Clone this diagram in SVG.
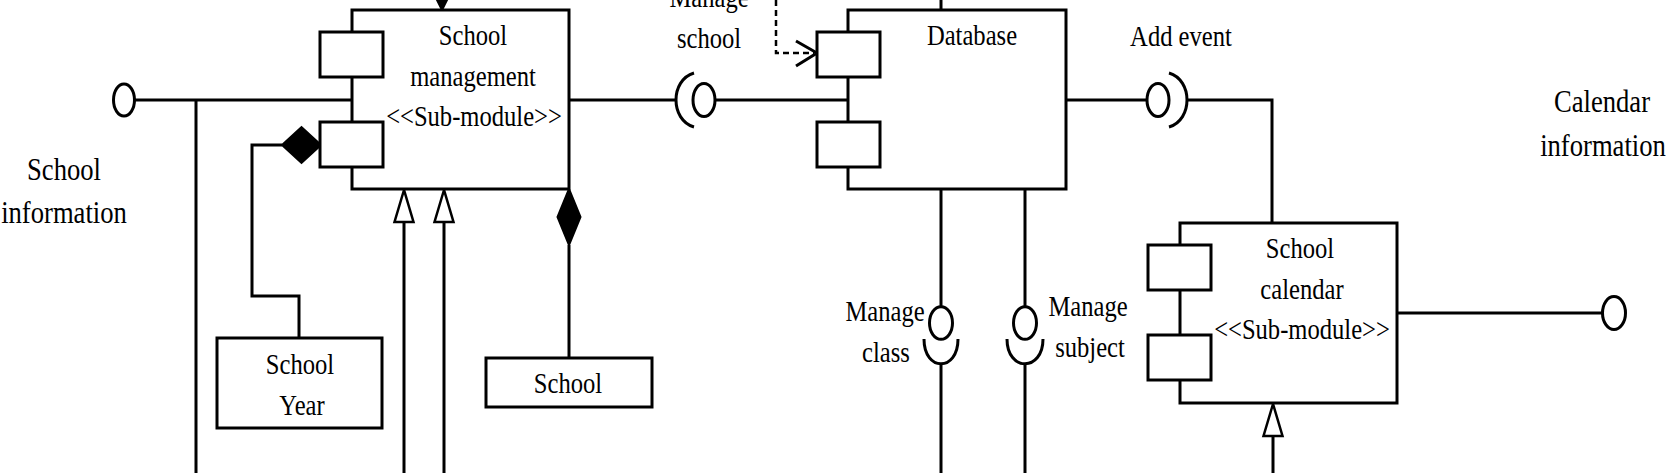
<svg xmlns="http://www.w3.org/2000/svg" width="1671" height="473" viewBox="0 0 1671 473">
<style>
.ln{fill:none;stroke:#000;stroke-width:3}
.dash{fill:none;stroke:#000;stroke-width:2.5;stroke-dasharray:6 4}
.ball{fill:#fff;stroke:#000;stroke-width:3}
.fd{fill:#000;stroke:#000;stroke-width:2}
.gen{fill:#fff;stroke:#000;stroke-width:2.5}
.box{fill:#fff;stroke:#000;stroke-width:3}
text{font-family:'Liberation Serif',serif;fill:#000;text-anchor:middle}
.t{font-size:30px}
.tb{font-size:32.5px}
</style>
<rect x="0" y="0" width="1671" height="473" fill="#fff"/>
<g id="connectors">
  <line class="ln" x1="135" y1="100" x2="352" y2="100"/>
  <ellipse class="ball" cx="124" cy="100" rx="10.5" ry="16"/>
  <line class="ln" x1="196" y1="100" x2="196" y2="473"/>
  <line class="ln" x1="442" y1="-40" x2="442" y2="-10"/>
  <polygon class="fd" points="442,10 454,-14 442,-38 430,-14"/>
  <polyline class="ln" points="282,145 252,145 252,296 299,296 299,338"/>
  <polygon class="fd" points="321,145 301.5,127 282,145 301.5,163"/>
  <line class="ln" x1="569" y1="245" x2="569" y2="358"/>
  <polygon class="fd" points="569,189 580.5,217 569,245 557.5,217"/>
  <line class="ln" x1="404" y1="222" x2="404" y2="473"/>
  <line class="ln" x1="444" y1="222" x2="444" y2="473"/>
  <polygon class="gen" points="404,190 394.5,222 413.5,222"/>
  <polygon class="gen" points="444,190 434.5,222 453.5,222"/>
  <line class="ln" x1="569" y1="100" x2="676" y2="100"/>
  <path class="ln" d="M694,73 C670,80 670,120 694,127"/>
  <line class="ln" x1="715" y1="100" x2="848" y2="100"/>
  <ellipse class="ball" cx="704" cy="100" rx="11" ry="16.5"/>
  <path class="dash" d="M776,0 V53 H814"/>
  <path class="ln" d="M796,41 L817,53 L796,66" stroke-width="2.5"/>
  <line class="ln" x1="941" y1="0" x2="941" y2="10"/>
  <line class="ln" x1="1066" y1="100" x2="1147" y2="100"/>
  <ellipse class="ball" cx="1158" cy="100" rx="11" ry="16.5"/>
  <path class="ln" d="M1169,73 C1193,80 1193,120 1169,127"/>
  <polyline class="ln" points="1187,100 1272,100 1272,223"/>
  <line class="ln" x1="941" y1="189" x2="941" y2="307"/>
  <ellipse class="ball" cx="941" cy="323" rx="11.5" ry="16.3"/>
  <path class="ln" d="M924,339 C924,372 958,372 958,339"/>
  <line class="ln" x1="941" y1="364" x2="941" y2="473"/>
  <line class="ln" x1="1025" y1="189" x2="1025" y2="307"/>
  <ellipse class="ball" cx="1025" cy="323" rx="11.5" ry="16.3"/>
  <path class="ln" d="M1007,339 C1007,372 1043,372 1043,339"/>
  <line class="ln" x1="1025" y1="364" x2="1025" y2="473"/>
  <line class="ln" x1="1397" y1="313" x2="1602" y2="313"/>
  <ellipse class="ball" cx="1614" cy="313" rx="11.5" ry="16.5"/>
  <line class="ln" x1="1273" y1="436" x2="1273" y2="473"/>
  <polygon class="gen" points="1273,404 1263.5,436 1282.5,436"/>
</g>
<g id="school-management">
  <rect class="box" x="352" y="10" width="217" height="179"/>
  <rect class="box" x="320" y="32" width="63" height="45"/>
  <rect class="box" x="320" y="122" width="63" height="45"/>
  <text class="t" font-family="Liberation Serif, serif" transform="translate(473,45) scale(0.82,1)">School</text>
  <text class="t" font-family="Liberation Serif, serif" transform="translate(473,86) scale(0.82,1)">management</text>
  <text class="t" font-family="Liberation Serif, serif" transform="translate(474,126) scale(0.82,1)">&lt;&lt;Sub-module&gt;&gt;</text>
</g>
<g id="database">
  <rect class="box" x="848" y="10" width="218" height="179"/>
  <rect class="box" x="817" y="32" width="63" height="45"/>
  <rect class="box" x="817" y="122" width="63" height="45"/>
  <text class="t" font-family="Liberation Serif, serif" transform="translate(972,45) scale(0.82,1)">Database</text>
</g>
<g id="school-calendar">
  <rect class="box" x="1180" y="223" width="217" height="180"/>
  <rect class="box" x="1148" y="245" width="63" height="45"/>
  <rect class="box" x="1148" y="335" width="63" height="45"/>
  <text class="t" font-family="Liberation Serif, serif" transform="translate(1300,258) scale(0.82,1)">School</text>
  <text class="t" font-family="Liberation Serif, serif" transform="translate(1302,299) scale(0.82,1)">calendar</text>
  <text class="t" font-family="Liberation Serif, serif" transform="translate(1302,339) scale(0.82,1)">&lt;&lt;Sub-module&gt;&gt;</text>
</g>
<g id="school-year">
  <rect class="box" x="217" y="338" width="165" height="90"/>
  <text class="t" font-family="Liberation Serif, serif" transform="translate(300,374) scale(0.82,1)">School</text>
  <text class="t" font-family="Liberation Serif, serif" transform="translate(302,415) scale(0.82,1)">Year</text>
</g>
<g id="school">
  <rect class="box" x="486" y="358" width="166" height="49"/>
  <text class="t" font-family="Liberation Serif, serif" transform="translate(568,393) scale(0.82,1)">School</text>
</g>
<g id="labels">
  <text class="tb" font-family="Liberation Serif, serif" transform="translate(64,180) scale(0.82,1)">School</text>
  <text class="tb" font-family="Liberation Serif, serif" transform="translate(64,223) scale(0.82,1)">information</text>
  <text class="tb" font-family="Liberation Serif, serif" transform="translate(1602,112) scale(0.82,1)">Calendar</text>
  <text class="tb" font-family="Liberation Serif, serif" transform="translate(1603,156) scale(0.82,1)">information</text>
  <text class="t" font-family="Liberation Serif, serif" transform="translate(709,7) scale(0.82,1)">Manage</text>
  <text class="t" font-family="Liberation Serif, serif" transform="translate(709,48) scale(0.82,1)">school</text>
  <text class="t" font-family="Liberation Serif, serif" transform="translate(1181,46) scale(0.82,1)">Add event</text>
  <text class="t" font-family="Liberation Serif, serif" transform="translate(885,321) scale(0.82,1)">Manage</text>
  <text class="t" font-family="Liberation Serif, serif" transform="translate(886,362) scale(0.82,1)">class</text>
  <text class="t" font-family="Liberation Serif, serif" transform="translate(1088,316) scale(0.82,1)">Manage</text>
  <text class="t" font-family="Liberation Serif, serif" transform="translate(1090,357) scale(0.82,1)">subject</text>
</g>
</svg>
